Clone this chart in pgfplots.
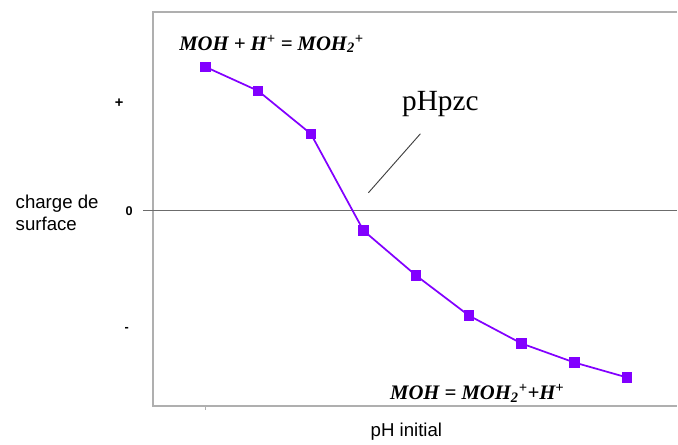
\documentclass[border=0pt]{standalone}
\usepackage{fontspec}
\setmainfont{Liberation Sans}
\newfontfamily\timesfont{Liberation Serif}
\usepackage{pgfplots}
\pgfplotsset{compat=1.18}
\definecolor{curve}{RGB}{130,0,255}
\definecolor{frame}{RGB}{175,175,175}
\newcommand\eqfont{\timesfont\bfseries\itshape\fontsize{15.5}{18}\selectfont}
\begin{document}
\begin{tikzpicture}
\begin{axis}[
  scale only axis,
  width=393.75pt, height=296.25pt,
  xmin=0, xmax=9.95,
  ymin=-1.96, ymax=1.99,
  clip=false,
  axis lines*=left,
  axis line style={draw=none},
  xtick={1}, xticklabels={},
  xtick style={frame, line width=0.8pt},
  tick align=outside,
  major tick length=2.5pt,
  ytick={-1.19,0,1.08},
  yticklabels={-\rule{3pt}{0pt},0,{\fontsize{11}{12}\selectfont+}\rule{7pt}{0pt}},
  ytick style={draw=none},
  yticklabel style={font=\fontsize{9.5}{10}\selectfont\bfseries, xshift=-9pt, anchor=east},
]
% frame on the top, left and bottom
\draw[frame, line width=1.5pt] (rel axis cs:1,1) -- (rel axis cs:0,1)
  -- (rel axis cs:0,0) -- (rel axis cs:1,0);
% zero-charge line
\draw[gray!85!black, line width=0.9pt] ([xshift=-7.5pt]axis cs:0,0) -- (axis cs:9.95,0);
\addplot[color=curve, line width=1.3pt, mark=square*, mark size=3.3pt,
  mark options={solid, fill=curve}]
  coordinates {
    (1, 1.44) (2, 1.20) (3, 0.77) (4, -0.20) (5, -0.65)
    (6, -1.05) (7, -1.33) (8, -1.52) (9, -1.67)
  };
\end{axis}
% annotations, placed in pixel units from the top left corner of the picture
\begin{scope}[x=0.75pt, y=-0.75pt, shift={(-114.75pt,305.25pt)}]
\path (0,0) rectangle (678,445);
\node[anchor=west, align=left, font=\fontsize{14}{16.5}\selectfont] at (11,213)
  {charge de\\surface};
\node[font=\fontsize{14}{16}\selectfont] at (407,432) {pH initial};
\node[font=\eqfont] at (272,44)
  {MOH + H\textsuperscript{+} = MOH\textsubscript{2}\textsuperscript{+}};
\node[font=\eqfont] at (478,394)
  {MOH = MOH\textsubscript{2}\textsuperscript{+}+H\textsuperscript{+}};
\node[font=\fontsize{22}{25}\selectfont\timesfont] at (441,104) {pHpzc};
\draw[gray!50!black, line width=0.7pt] (369,193) -- (421,134);
\end{scope}
\end{tikzpicture}
\end{document}
